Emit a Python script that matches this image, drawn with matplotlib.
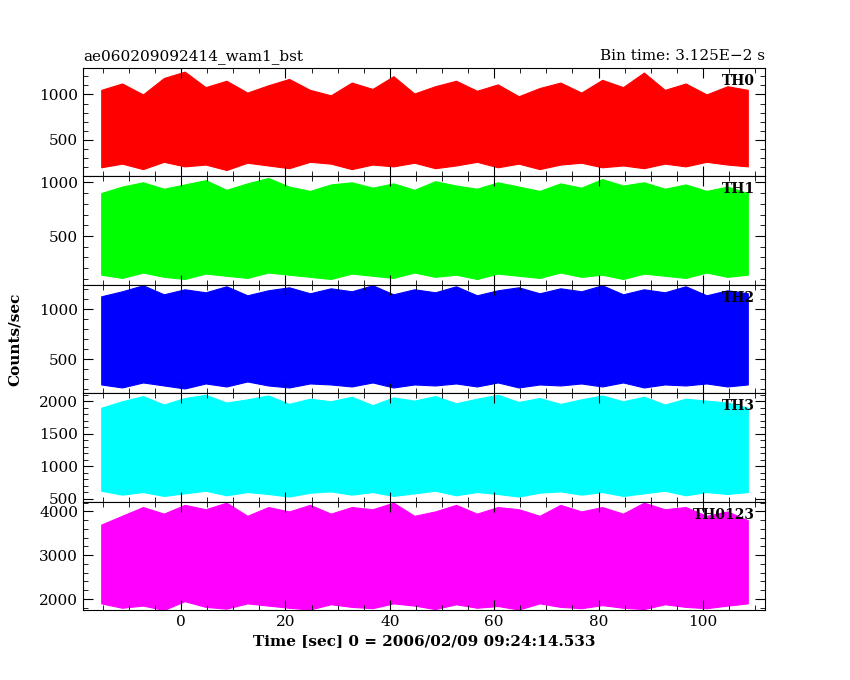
import numpy as np
import matplotlib.pyplot as plt
from matplotlib.ticker import AutoMinorLocator

# bin start times (4 s bins) and rough envelopes
t_bins = [-15.3, -11.3, -7.3, -3.3, 0.7, 4.7, 8.7, 12.7, 16.7, 20.7, 24.7, 28.7,
          32.7, 36.7, 40.7, 44.7, 48.7, 52.7, 56.7, 60.7, 64.7, 68.7, 72.7, 76.7,
          80.7, 84.7, 88.7, 92.7, 96.7, 100.7, 104.7, 108.6]

th0_hi = [1050, 1120, 1000, 1180, 1250, 1080, 1150, 1020, 1100, 1170, 1050, 990,
          1130, 1060, 1200, 1010, 1090, 1150, 1040, 1110, 980, 1070, 1130, 1020,
          1160, 1080, 1240, 1050, 1120, 1000, 1090, 1050]
th0_lo = [200, 240, 180, 260, 210, 230, 170, 250, 220, 190, 260, 240,
          180, 230, 210, 250, 190, 220, 260, 200, 240, 180, 230, 250,
          200, 220, 190, 240, 210, 260, 230, 210]
th1_hi = [900, 960, 1000, 940, 980, 1020, 930, 990, 1040, 960, 920, 980,
          1000, 950, 990, 930, 1010, 970, 940, 1000, 960, 920, 990, 950,
          1030, 970, 1000, 940, 980, 920, 960, 900]
th1_lo = [140, 110, 160, 120, 100, 150, 130, 110, 160, 140, 120, 100,
          150, 130, 110, 160, 120, 140, 100, 150, 130, 110, 160, 120,
          140, 100, 150, 130, 110, 160, 120, 140]
th2_hi = [1130, 1180, 1240, 1150, 1200, 1170, 1230, 1140, 1190, 1220, 1160, 1210,
          1180, 1240, 1150, 1200, 1170, 1230, 1140, 1190, 1220, 1160, 1210, 1180,
          1240, 1150, 1200, 1170, 1230, 1140, 1190, 1160]
th2_lo = [250, 220, 270, 240, 210, 260, 230, 280, 240, 220, 260, 250,
          230, 270, 220, 250, 240, 260, 230, 270, 220, 250, 240, 260,
          230, 270, 220, 250, 240, 260, 230, 250]
th3_hi = [1900, 2000, 2080, 1950, 2050, 2100, 1980, 2030, 2090, 1960, 2040, 2000,
          2070, 1940, 2060, 2010, 2080, 1970, 2040, 2100, 1990, 2050, 1960, 2030,
          2090, 2000, 2070, 1950, 2040, 2010, 1980, 1900]
th3_lo = [620, 560, 600, 540, 580, 620, 550, 600, 570, 530, 590, 610,
          560, 600, 540, 580, 620, 550, 600, 570, 530, 590, 610, 560,
          600, 540, 580, 620, 550, 600, 570, 600]
th0123_hi = [3700, 3900, 4100, 3950, 4150, 4050, 4200, 3900, 4100, 4000, 4150, 3950,
             4100, 4050, 4200, 3900, 4000, 4150, 3950, 4100, 4050, 3900, 4150, 4000,
             4100, 3950, 4200, 4050, 4100, 3900, 4000, 3800]
th0123_lo = [1900, 1800, 1850, 1750, 1950, 1820, 1780, 1900, 1850, 1800, 1760, 1880,
             1820, 1790, 1900, 1850, 1770, 1880, 1800, 1840, 1760, 1900, 1820, 1790,
             1860, 1800, 1770, 1880, 1820, 1790, 1850, 1900]

panels = [
    ("TH0", th0_lo, th0_hi, "#ff0000", (100, 1290), [500, 1000]),
    ("TH1", th1_lo, th1_hi, "#00ff00", (46, 1055), [500, 1000]),
    ("TH2", th2_lo, th2_hi, "#0000ff", (163, 1245), [500, 1000]),
    ("TH3", th3_lo, th3_hi, "#00ffff", (453, 2125), [500, 1000, 1500, 2000]),
    ("TH0123", th0123_lo, th0123_hi, "#ff00ff", (1750, 4225), [2000, 3000, 4000]),
]

plt.rcParams['font.family'] = ['DejaVu Serif']
plt.rcParams['font.size'] = 11

fig = plt.figure(figsize=(8.5, 6.8), dpi=100)
left, right, bottom, top = 0.0976, 0.9, 0.103, 0.9
h = (top - bottom) / len(panels)
axes = []
for i, (name, lo, hi, col, ylim, yt) in enumerate(panels):
    ax = fig.add_axes([left, top - (i + 1) * h, right - left, h])
    ax.fill_between(t_bins, lo, hi, color=col, lw=0.8, edgecolor=col)
    ax.set_xlim(-18.8, 111.9)
    ax.set_ylim(*ylim)
    ax.set_yticks(yt)
    ax.xaxis.set_minor_locator(AutoMinorLocator(4))
    ax.yaxis.set_minor_locator(AutoMinorLocator(5))
    ax.tick_params(which='both', direction='in', top=True, right=True)
    ax.tick_params(which='major', length=7)
    ax.tick_params(which='minor', length=3.5)
    ax.text(0.985, 0.88, name, transform=ax.transAxes, ha='right', va='center',
            fontweight='bold', fontsize=10)
    if i < len(panels) - 1:
        ax.set_xticklabels([])
    axes.append(ax)

axes[-1].set_xticks([0, 20, 40, 60, 80, 100])
axes[-1].set_xlabel("Time [sec] 0 = 2006/02/09 09:24:14.533", fontweight='bold')
fig.text(0.018, (top + bottom) / 2, "Counts/sec", rotation=90, va='center', ha='center',
         fontweight='bold')
axes[0].set_title("ae060209092414_wam1_bst", loc='left', fontsize=11)
axes[0].set_title("Bin time: 3.125E\u22122 s", loc='right', fontsize=11)

fig.savefig("out.png", dpi=100)
